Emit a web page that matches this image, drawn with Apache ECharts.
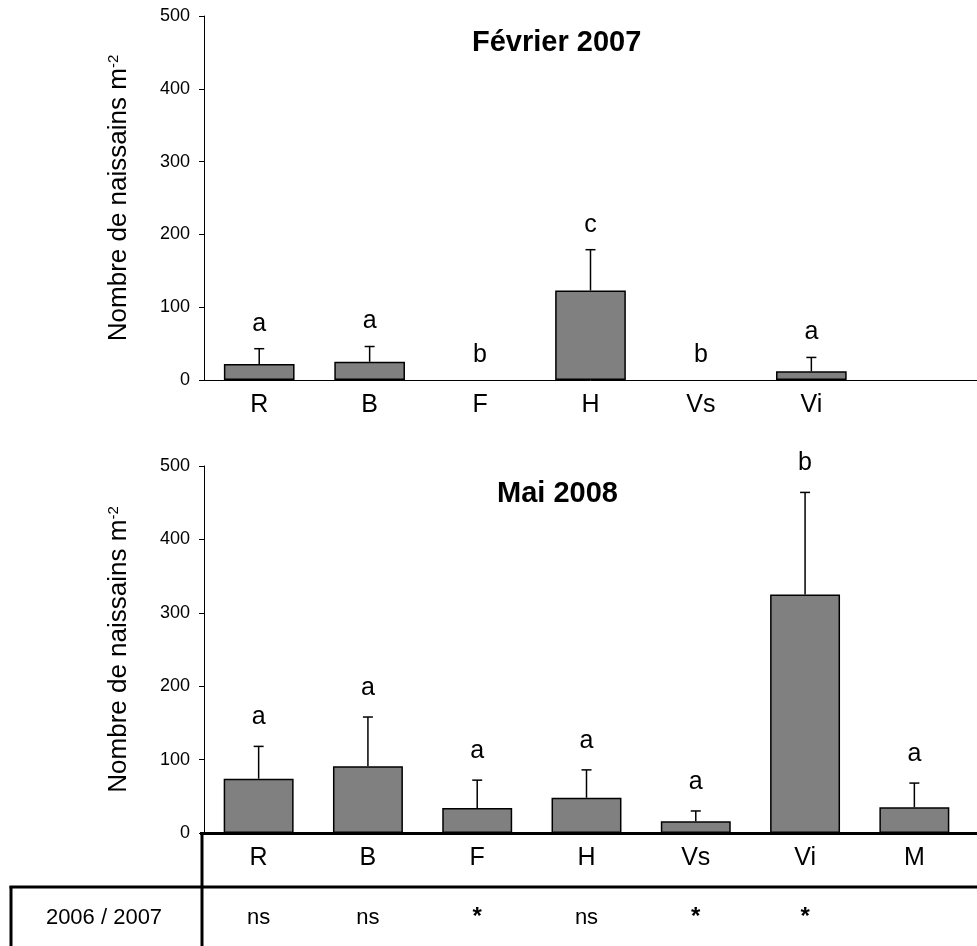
<!DOCTYPE html>
<html>
<head>
<meta charset="utf-8">
<script src="https://cdn.jsdelivr.net/npm/echarts@6/dist/echarts.min.js"></script>
<style>
    html, body { margin: 0; padding: 0; background: #fff; }
    #main { width: 977px; height: 946px; }
</style>
</head>
<body>
<div id="main"></div>
<script>
// sites (categories)
var sites = ['R', 'B', 'F', 'H', 'Vs', 'Vi', 'M'];
// Février 2007 : moyenne + erreur (pas de site M)
var febMean = [22, 25, 0, 123, 0, 12, null];
var febErr = [21, 21, 0, 56, 0, 19, null];
var febLetters = ['a', 'a', 'b', 'c', 'b', 'a', ''];
// Mai 2008
var maiMean = [74, 91, 34, 48, 16, 325, 35];
var maiErr = [44, 67, 38, 38, 14, 139, 33];
var maiLetters = ['a', 'a', 'a', 'a', 'a', 'b', 'a'];
// comparaison 2006 / 2007
var compareLabel = '2006 / 2007';
var compareSig = ['ns', 'ns', '*', 'ns', '*', '*', ''];

var FONT = '"Liberation Sans", Arial, sans-serif';

var myChart = echarts.init(document.getElementById('main'));

// barres d'erreur + lettres au-dessus
function errorItem(letters, lift) {
    return function (params, api) {
        var i = api.value(0);
        var m = api.value(1);
        var e = api.value(2);
        var base = api.coord([i, m]);
        var top = api.coord([i, m + e]);
        var children = [];
        if (e > 0) {
            children.push({
                type: 'line',
                shape: { x1: base[0], y1: base[1], x2: top[0], y2: top[1] },
                style: { stroke: '#000', lineWidth: 1.5 }
            });
            children.push({
                type: 'line',
                shape: { x1: top[0] - 5, y1: top[1], x2: top[0] + 5, y2: top[1] },
                style: { stroke: '#000', lineWidth: 1.5 }
            });
        }
        children.push({
            type: 'text',
            x: top[0],
            y: top[1] - lift,
            style: {
                text: letters[params.dataIndex],
                fill: '#000',
                fontSize: 25,
                fontFamily: FONT,
                align: 'center',
                verticalAlign: 'middle'
            }
        });
        return { type: 'group', children: children };
    };
}

function errData(mean, err) {
    var out = [];
    for (var i = 0; i < sites.length; i++) {
        if (mean[i] == null) continue;
        out.push([i, mean[i], err[i]]);
    }
    return out;
}

// barres : pas de contour pour une valeur nulle
function barData(mean) {
    return mean.map(function (v) {
        if (v === 0) return { value: v, itemStyle: { borderWidth: 0 } };
        return v;
    });
}

function yAxisCfg(idx) {
    return {
        type: 'value',
        gridIndex: idx,
        min: 0,
        max: 500,
        interval: 100,
        axisLine: { show: true, lineStyle: { color: '#000', width: 1 } },
        axisTick: { show: true, length: 5, lineStyle: { color: '#000' } },
        splitLine: { show: false },
        axisLabel: { color: '#000', fontSize: 18, margin: 14, fontFamily: FONT },
        name: '{t|Nombre de naissains m}{s|-2}',
        nameLocation: 'middle',
        nameGap: 72,
        nameTextStyle: {
            rich: {
                t: { fontSize: 26, color: '#000', fontFamily: FONT },
                s: { fontSize: 15, color: '#000', fontFamily: FONT, verticalAlign: 'top' }
            }
        }
    };
}

var option = {
    animation: false,
    textStyle: { fontFamily: FONT },
    title: [
        { text: 'Février 2007', left: 467, top: 23,
          textStyle: { fontSize: 29, fontWeight: 'bold', color: '#000', fontFamily: FONT } },
        { text: 'Mai 2008', left: 492, top: 474,
          textStyle: { fontSize: 29, fontWeight: 'bold', color: '#000', fontFamily: FONT } }
    ],
    grid: [
        { left: 204, right: 0, top: 16, height: 364 },
        { left: 204, right: 8, top: 466, height: 367 },
        { left: 204, right: 8, top: 889, height: 60 }
    ],
    xAxis: [
        {
            type: 'category', gridIndex: 0, data: sites,
            axisLine: { lineStyle: { color: '#000', width: 1 } },
            axisTick: { show: false },
            axisLabel: {
                color: '#000', fontSize: 25, margin: 13, fontFamily: FONT,
                formatter: function (v, i) { return febMean[i] == null ? '' : v; }
            }
        },
        {
            type: 'category', gridIndex: 1, data: sites,
            axisLine: { show: false },
            axisTick: { show: false },
            axisLabel: { color: '#000', fontSize: 25, margin: 13, fontFamily: FONT }
        },
        {
            type: 'category', gridIndex: 2, data: sites, show: false
        }
    ],
    yAxis: [
        yAxisCfg(0),
        yAxisCfg(1),
        { type: 'value', gridIndex: 2, min: 0, max: 1, show: false }
    ],
    series: [
        {
            type: 'bar', xAxisIndex: 0, yAxisIndex: 0, data: barData(febMean), barWidth: '64%',
            itemStyle: { color: '#808080', borderColor: '#000', borderWidth: 1.5 }
        },
        {
            type: 'custom', xAxisIndex: 0, yAxisIndex: 0, z: 5,
            renderItem: errorItem(febLetters, 25),
            data: errData(febMean, febErr)
        },
        {
            type: 'bar', xAxisIndex: 1, yAxisIndex: 1, data: barData(maiMean), barWidth: '64%',
            itemStyle: { color: '#808080', borderColor: '#000', borderWidth: 1.5 }
        },
        {
            type: 'custom', xAxisIndex: 1, yAxisIndex: 1, z: 5,
            renderItem: errorItem(maiLetters, 29),
            data: errData(maiMean, maiErr)
        },
        {
            // ligne du tableau : significativité 2006 / 2007
            type: 'scatter', xAxisIndex: 2, yAxisIndex: 2, symbolSize: 0,
            itemStyle: { opacity: 1 },
            data: sites.map(function (s, i) { return [i, 0.5]; }),
            label: {
                show: true, position: 'inside', color: '#000', fontSize: 22, fontFamily: FONT,
                formatter: function (p) {
                    var s = compareSig[p.dataIndex];
                    return s === '*' ? '{st|*}' : s;
                },
                rich: {
                    st: { fontSize: 24, fontWeight: 'bold', color: '#000', fontFamily: FONT }
                }
            }
        }
    ],
    graphic: [
        // traits du tableau
        { type: 'line', shape: { x1: 200, y1: 833.5, x2: 977, y2: 833.5 }, style: { stroke: '#000', lineWidth: 3 }, z: 10 },
        { type: 'line', shape: { x1: 202, y1: 833, x2: 202, y2: 946 }, style: { stroke: '#000', lineWidth: 3 }, z: 10 },
        { type: 'line', shape: { x1: 9.5, y1: 887, x2: 977, y2: 887 }, style: { stroke: '#000', lineWidth: 3 }, z: 10 },
        { type: 'line', shape: { x1: 11, y1: 886, x2: 11, y2: 946 }, style: { stroke: '#000', lineWidth: 3 }, z: 10 },
        {
            type: 'text', x: 104, y: 918,
            style: { text: compareLabel, fill: '#000', fontSize: 22, fontFamily: FONT, align: 'center', verticalAlign: 'middle' }
        }
    ]
};

myChart.setOption(option);
window.addEventListener('resize', function () {
    myChart.resize();
});
</script>
</body>
</html>
